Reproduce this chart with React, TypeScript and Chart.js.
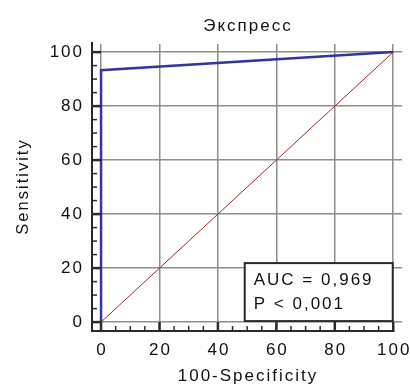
import { useEffect, useRef } from 'react';
import { Chart, registerables } from 'chart.js';

Chart.register(...registerables);

// Chart text
const titleText = 'Экспресс';
const xTitle = '100-Specificity';
const yTitle = 'Sensitivity';
const statLines = ['AUC = 0,969', 'P < 0,001'];

// Axis ticks (major every 20, minor every 5)
const tickValues = [0, 20, 40, 60, 80, 100];
const minorStep = 5;

// ROC curve: 100-Specificity vs Sensitivity
const rocFpr = [0, 0, 100];
const rocTpr = [0, 93.3, 100];

// Chance (reference) diagonal
const refFpr = [0, 100];
const refTpr = [0, 100];

const FONT = '"Liberation Sans", Arial, sans-serif';
const AXIS_COLOR = '#2a2a2a';

const overlay = {
  id: 'rocOverlay',
  afterDraw(chart: any) {
    const ctx: CanvasRenderingContext2D = chart.ctx;
    const xs = chart.scales.x;
    const ys = chart.scales.y;
    const a = chart.chartArea;
    const x0 = xs.getPixelForValue(0);
    const x100 = xs.getPixelForValue(100);
    const y0 = ys.getPixelForValue(0);

    ctx.save();
    ctx.strokeStyle = AXIS_COLOR;
    ctx.lineCap = 'butt';

    const seg = (ax: number, ay: number, bx: number, by: number, w: number) => {
      ctx.lineWidth = w;
      ctx.beginPath();
      ctx.moveTo(ax, ay);
      ctx.lineTo(bx, by);
      ctx.stroke();
    };

    // axis lines
    seg(a.left, a.top - 2, a.left, a.bottom + 1, 2);
    seg(a.left - 1, a.bottom, x100 + 1, a.bottom, 2);

    // minor ticks
    for (let v = 0; v <= 100; v += minorStep) {
      if (tickValues.includes(v)) continue;
      const px = xs.getPixelForValue(v);
      const py = ys.getPixelForValue(v);
      seg(px, a.bottom, px, a.bottom - 5, 1.5);
      seg(a.left, py, a.left + 5, py, 1.5);
    }
    // major ticks
    tickValues.forEach((v) => {
      const px = xs.getPixelForValue(v);
      const py = ys.getPixelForValue(v);
      seg(px, a.bottom + 1, px, y0, 2.5);
      seg(a.left - 1, py, x0, py, 2.5);
    });

    // tick labels
    ctx.fillStyle = '#111';
    ctx.font = `17px ${FONT}`;
    (ctx as any).letterSpacing = '2px';
    ctx.textBaseline = 'alphabetic';
    ctx.textAlign = 'center';
    tickValues.forEach((v) => {
      ctx.fillText(String(v), xs.getPixelForValue(v) + 1, 355);
    });
    ctx.textAlign = 'right';
    ctx.textBaseline = 'middle';
    tickValues.forEach((v) => {
      ctx.fillText(String(v), 84, ys.getPixelForValue(v));
    });

    // axis titles and chart title
    ctx.textAlign = 'center';
    ctx.textBaseline = 'alphabetic';
    const cx = (a.left + a.right) / 2;
    ctx.fillText(titleText, cx + 1, 31);
    ctx.fillText(xTitle, cx + 1, 381);
    ctx.save();
    ctx.font = `16.5px ${FONT}`;
    ctx.translate(28, (a.top + a.bottom) / 2);
    ctx.rotate(-Math.PI / 2);
    ctx.fillText(yTitle, 1, 0);
    ctx.restore();

    // statistics box
    const bw = 148;
    const bh = 58;
    const bx = x100 - 0.5 - bw;
    const by = y0 - 1 - bh;
    ctx.fillStyle = '#fff';
    ctx.fillRect(bx, by, bw, bh);
    ctx.lineWidth = 2;
    ctx.strokeStyle = AXIS_COLOR;
    ctx.strokeRect(bx, by, bw, bh);
    ctx.fillStyle = '#111';
    ctx.textAlign = 'left';
    statLines.forEach((t, i) => {
      ctx.fillText(t, bx + 9, by + 22 + i * 24);
    });

    ctx.restore();
  },
};

export default function App() {
  const ref = useRef<HTMLCanvasElement | null>(null);

  useEffect(() => {
    if (!ref.current) return;
    const gridOpts = { color: '#8e8e8e', lineWidth: 1.5, drawTicks: false };
    const chart = new Chart(ref.current, {
      type: 'scatter',
      data: {
        datasets: [
          {
            data: refFpr.map((x, i) => ({ x, y: refTpr[i] })),
            showLine: true,
            borderColor: '#a32424',
            borderWidth: 1,
            pointRadius: 0,
          },
          {
            data: rocFpr.map((x, i) => ({ x, y: rocTpr[i] })),
            showLine: true,
            borderColor: '#3535a0',
            borderWidth: 2.5,
            pointRadius: 0,
          },
        ],
      },
      options: {
        animation: false,
        responsive: false,
        layout: { padding: { top: 44, right: 8, left: 0, bottom: 0 } },
        plugins: {
          legend: { display: false },
          tooltip: { enabled: false },
          title: { display: false },
        },
        scales: {
          x: {
            type: 'linear',
            min: -3.1,
            max: 103,
            afterBuildTicks: (s: any) => {
              s.ticks = tickValues.map((v) => ({ value: v }));
            },
            afterFit: (s: any) => {
              s.height = 54;
            },
            ticks: { display: false },
            grid: gridOpts,
            border: { display: false },
          },
          y: {
            type: 'linear',
            min: -3.3,
            max: 103,
            afterBuildTicks: (s: any) => {
              s.ticks = tickValues.map((v) => ({ value: v }));
            },
            afterFit: (s: any) => {
              s.width = 92;
            },
            ticks: { display: false },
            grid: gridOpts,
            border: { display: false },
          },
        },
      } as any,
      plugins: [overlay],
    });
    return () => chart.destroy();
  }, []);

  return (
    <div style={{ position: 'fixed', left: 0, top: 0, width: 410, height: 385, background: '#fff' }}>
      <canvas ref={ref} width={410} height={385} style={{ display: 'block' }} />
    </div>
  );
}
